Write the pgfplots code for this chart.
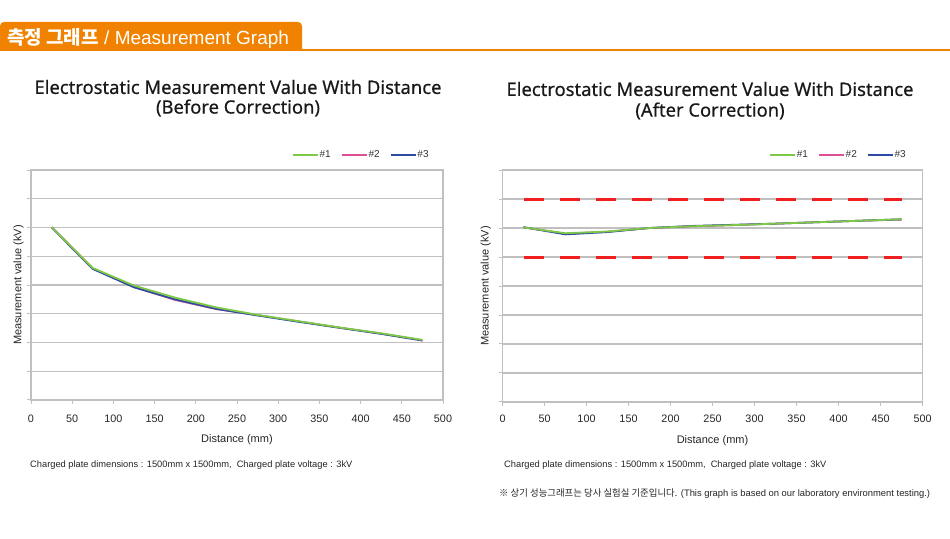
\documentclass[border=0pt]{standalone}
\usepackage{pgfplots}
\pgfplotsset{compat=1.18}
\usepackage{fontspec}
\setmainfont{Liberation Sans}
\newfontface\titlefont[FakeBold=0.4]{Noto Sans}
\newfontfamily\cjk{Noto Sans CJK KR}
\definecolor{hdr}{RGB}{240,130,0}
\definecolor{gA}{RGB}{125,200,70}
\definecolor{pB}{RGB}{222,80,150}
\definecolor{bC}{RGB}{45,75,165}
\definecolor{gridc}{RGB}{192,192,192}
\definecolor{dashred}{RGB}{240,30,30}
\pgfplotsset{
 myax/.style={
  scale only axis, xmin=0, xmax=500, ymin=0, ymax=8,
  xtick={0,50,...,500}, ytick={0,1,...,8}, yticklabels={},
  xtick pos=left, ytick pos=left, tick align=outside, major tick length=4pt,
  tick style={gridc, line width=1pt},
  axis line style={gridc, line width=1.2pt},
  ymajorgrids, major grid style={gridc, line width=1.2pt},
  ticklabel style={font=\fontsize{10.8}{12}\selectfont, text=black!85},
  /pgf/number format/assume math mode=true,
  xlabel={Distance (mm)}, ylabel={Measurement value (kV)},
  label style={font=\fontsize{11}{13}\selectfont, text=black!85},
  legend columns=3,
  legend style={draw=none, fill=none, font=\fontsize{10}{11}\selectfont, text=black!80,
    nodes={inner sep=1pt},
    /tikz/every even column/.append style={column sep=9pt}, inner sep=0pt},
  legend image code/.code={\draw[#1,line width=1.8pt] (0pt,0pt) -- (25pt,0pt);},
 }
}
\begin{document}
\begin{tikzpicture}
\fill[white] (0pt,0pt) rectangle (950pt,538pt);
% header
\fill[hdr] (0pt,487pt) [rounded corners=4pt] -- (0pt,516pt) -- (302pt,516pt) [sharp corners] -- (302pt,487pt) -- cycle;
\fill[hdr] (0pt,487pt) rectangle (950pt,489pt);
\node[anchor=west, text=white, inner sep=0] at (7pt,500pt) {\fontsize{19}{22}\selectfont{\cjk\bfseries 측정 그래프} / Measurement Graph};
% titles
\node[font=\titlefont\fontsize{18.4}{21}\selectfont, text=black!90] at (238pt,451pt) {Electrostatic Measurement Value With Distance};
\node[font=\titlefont\fontsize{18.4}{21}\selectfont, text=black!90] at (238pt,430pt) {(Before Correction)};
\node[font=\titlefont\fontsize{18.4}{21}\selectfont, text=black!90] at (710pt,449pt) {Electrostatic Measurement Value With Distance};
\node[font=\titlefont\fontsize{18.4}{21}\selectfont, text=black!90] at (710pt,427pt) {(After Correction)};
% left axis
\begin{axis}[myax, at={(31pt,138pt)}, anchor=south west, width=412pt, height=230pt,
  xticklabel style={yshift=-7pt},
  xlabel style={at={(axis description cs:0.5,-0.172)}, anchor=center},
  ylabel style={at={(axis description cs:-0.030,0.5)}, anchor=center},
  legend style={at={(0.968,1.065)}, anchor=east}]
\addlegendimage{gA}\addlegendentry{\#1}
\addlegendimage{pB}\addlegendentry{\#2}
\addlegendimage{bC}\addlegendentry{\#3}
\addplot[pB, line width=1.8pt, forget plot] coordinates {(25,6.02) (75,4.57) (125,3.93) (175,3.48) (225,3.16) (275,2.95) (325,2.73) (375,2.51) (425,2.31) (475,2.07)};
\addplot[bC, line width=1.8pt, forget plot] coordinates {(25,6.00) (75,4.56) (125,3.92) (175,3.50) (225,3.17) (275,2.94) (325,2.72) (375,2.51) (425,2.30) (475,2.07)};
\addplot[gA, line width=1.8pt, forget plot] coordinates {(25,6.01) (75,4.59) (125,3.98) (175,3.56) (225,3.22) (275,2.96) (325,2.74) (375,2.52) (425,2.32) (475,2.09)};
\end{axis}
% right axis
\begin{axis}[myax, at={(502.5pt,136pt)}, anchor=south west, width=420pt, height=232pt,
  xticklabel style={yshift=-5pt},
  xlabel style={at={(axis description cs:0.5,-0.168)}, anchor=center},
  ylabel style={at={(axis description cs:-0.040,0.5)}, anchor=center},
  legend style={at={(0.963,1.065)}, anchor=east}]
\addlegendimage{gA}\addlegendentry{\#1}
\addlegendimage{pB}\addlegendentry{\#2}
\addlegendimage{bC}\addlegendentry{\#3}
\addplot[dashred, line width=3pt, dash pattern=on 20pt off 16pt, forget plot] coordinates {(25,7) (475,7)};
\addplot[dashred, line width=3pt, dash pattern=on 20pt off 16pt, forget plot] coordinates {(25,5) (475,5)};
\addplot[pB, line width=1.8pt, forget plot] coordinates {(25,6.02) (75,5.80) (125,5.87) (175,6.00) (225,6.06) (275,6.10) (325,6.15) (375,6.20) (425,6.25) (475,6.29)};
\addplot[bC, line width=1.8pt, forget plot] coordinates {(25,6.03) (75,5.78) (125,5.86) (175,6.00) (225,6.07) (275,6.11) (325,6.15) (375,6.20) (425,6.25) (475,6.30)};
\addplot[gA, line width=1.8pt, forget plot] coordinates {(25,6.02) (75,5.82) (125,5.88) (175,6.00) (225,6.06) (275,6.10) (325,6.15) (375,6.20) (425,6.25) (475,6.30)};
\end{axis}
% footnotes
\node[anchor=west, inner sep=0, text=black!85] at (30pt,73pt) {\fontsize{9.3}{10}\selectfont Charged plate dimensions : 1500mm x 1500mm,\ \ Charged plate voltage : 3kV};
\node[anchor=west, inner sep=0, text=black!85] at (504pt,73pt) {\fontsize{9.3}{10}\selectfont Charged plate dimensions : 1500mm x 1500mm,\ \ Charged plate voltage : 3kV};
\node[anchor=west, inner sep=0, text=black!85] at (499pt,44pt) {\fontsize{9.4}{10}\selectfont{\cjk ※ 상기 성능그래프는 당사 실험실 기준입니다.} (This graph is based on our laboratory environment testing.)};
\pgfresetboundingbox
\path[use as bounding box] (0pt,0pt) rectangle (950pt,538pt);
\end{tikzpicture}
\end{document}
